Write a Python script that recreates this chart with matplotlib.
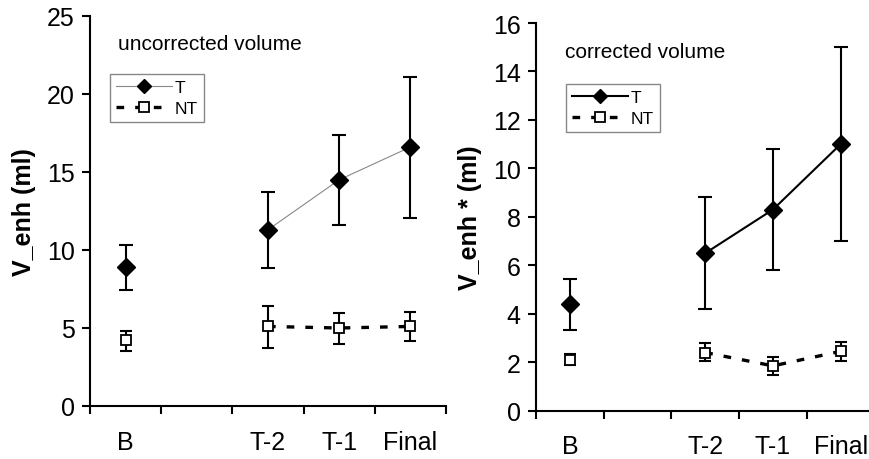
import matplotlib
matplotlib.use("Agg")
import matplotlib.pyplot as plt
from matplotlib.ticker import FixedLocator, NullFormatter, FixedFormatter

plt.rcParams['font.family'] = ['Liberation Sans', 'DejaVu Sans']

categories = ["B", "T-2", "T-1", "Final"]
slots = [0, 2, 3, 4]  # category slot index on the x axis (slot 1 empty)

# uncorrected volume
left_T = [8.9, 11.3, 14.5, 16.6]
left_T_low = [7.45, 8.85, 11.6, 12.05]
left_T_high = [10.35, 13.75, 17.35, 21.1]
left_NT = [4.2, 5.1, 5.0, 5.1]
left_NT_low = [3.55, 3.75, 4.0, 4.15]
left_NT_high = [4.8, 6.4, 5.95, 6.0]

# corrected volume
right_T = [4.4, 6.5, 8.3, 11.0]
right_T_low = [3.35, 4.2, 5.8, 7.0]
right_T_high = [5.45, 8.8, 10.8, 15.0]
right_NT = [2.1, 2.4, 1.85, 2.45]
right_NT_low = [1.88, 2.05, 1.47, 2.06]
right_NT_high = [2.34, 2.8, 2.2, 2.82]

fig = plt.figure(figsize=(8.7, 4.6), dpi=100)
axL = fig.add_axes([90/870, 1-407/460, 356/870, 390/460])
axR = fig.add_axes([536/870, 1-411.7/460, 334/870, 387.7/460])

def draw(ax, T, Tl, Th, NT, NTl, NTh, tcolor, tlw, ymax, ystep, ylabel, title, tx, ty, legpos):
    x = [s + 0.5 for s in slots]
    eT = [[m - l for m, l in zip(T, Tl)], [h - m for m, h in zip(T, Th)]]
    eN = [[m - l for m, l in zip(NT, NTl)], [h - m for m, h in zip(NT, NTh)]]
    ax.errorbar(x, T, yerr=eT, fmt='none', ecolor='black', elinewidth=1.5, capsize=5, capthick=1.5, zorder=2)
    ax.errorbar(x, NT, yerr=eN, fmt='none', ecolor='black', elinewidth=1.5, capsize=4, capthick=1.5, zorder=2)
    # connecting lines (B not connected)
    ax.plot(x[1:], T[1:], color=tcolor, lw=tlw, zorder=3)
    ax.plot(x[1:], NT[1:], color='black', lw=2.4, dashes=(2.3, 3.3), zorder=3)
    ax.plot(x, T, linestyle='none', marker='D', ms=9.5, mfc='black', mec='black', zorder=4)
    ax.plot(x, NT, linestyle='none', marker='s', ms=7.5, mfc='white', mec='black', mew=1.3, zorder=4)
    hT, = ax.plot([], [], color=tcolor, lw=tlw, marker='D', ms=7.5, mfc='black', mec='black')
    hN, = ax.plot([], [], color='black', lw=2.4, dashes=(2.3, 3.3), marker='s', ms=7, mfc='white', mec='black', mew=1.3)
    leg = ax.legend([hT, hN], ["T", "NT"], loc='upper left', bbox_to_anchor=legpos, fontsize=12.5,
                    frameon=True, fancybox=False, edgecolor='#888888', framealpha=1,
                    handlelength=3.2, handletextpad=0.2, borderpad=0.35, labelspacing=0.3,
                    borderaxespad=0)
    leg.get_frame().set_linewidth(1.0)
    ax.set_xlim(0, 5)
    ax.set_ylim(0, ymax)
    ax.set_yticks(list(range(0, ymax + 1, ystep)))
    ax.xaxis.set_major_locator(FixedLocator([0, 1, 2, 3, 4, 5]))
    ax.xaxis.set_major_formatter(NullFormatter())
    ax.xaxis.set_minor_locator(FixedLocator(x))
    ax.xaxis.set_minor_formatter(FixedFormatter(categories))
    ax.tick_params(axis='x', which='major', direction='out', length=6, width=1.5)
    ax.tick_params(axis='x', which='minor', length=0, pad=17, labelsize=18)
    ax.tick_params(axis='y', direction='out', length=6, width=1.5, labelsize=18, pad=5)
    for s in ['top', 'right']:
        ax.spines[s].set_visible(False)
    for s in ['left', 'bottom']:
        ax.spines[s].set_linewidth(1.5)
    ax.set_ylabel(ylabel, fontsize=18, fontweight='bold', labelpad=8)
    ax.text(tx, ty, title, transform=ax.transAxes, fontsize=15, ha='left', va='center')

draw(axL, left_T, left_T_low, left_T_high, left_NT, left_NT_low, left_NT_high,
     '#888888', 0.8, 25, 5, "V_enh (ml)", "uncorrected volume",
     (118-90)/356, 1-(45-17)/390, ((110-90)/356, 1-(75-17)/390))
draw(axR, right_T, right_T_low, right_T_high, right_NT, right_NT_low, right_NT_high,
     'black', 1.5, 16, 2, "V_enh * (ml)", "corrected volume",
     (565-536)/334, 1-(52-24)/387.7, ((566-536)/334, 1-(85-24)/387.7))
axR.set_xlim(0, 334/67.7)

fig.savefig("out.png", dpi=100)
